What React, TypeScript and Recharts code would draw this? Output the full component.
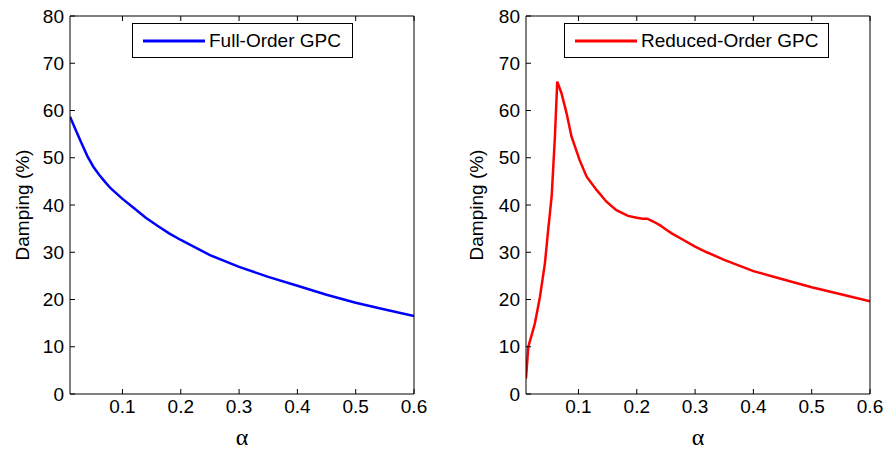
import { LineChart, Line, XAxis, YAxis, Legend, Label } from 'recharts';

// α sweep and damping (%) for the full-order controller
const fullAlpha = [
  0.01, 0.02, 0.03, 0.04, 0.05, 0.06, 0.07, 0.08, 0.09, 0.1, 0.12, 0.14, 0.16, 0.18,
  0.2, 0.25, 0.3, 0.35, 0.4, 0.45, 0.5, 0.55, 0.6,
];
const fullOrderDamping = [
  58.7, 55.8, 53.0, 50.3, 48.1, 46.4, 44.9, 43.5, 42.4, 41.3, 39.3, 37.3, 35.6, 34.0,
  32.6, 29.4, 26.9, 24.8, 22.9, 21.0, 19.3, 17.9, 16.5,
];

// α sweep and damping (%) for the reduced-order controller
const reducedAlpha = [
  0.01, 0.014, 0.02, 0.025, 0.03, 0.034, 0.0425, 0.048, 0.054, 0.0596, 0.0636, 0.071,
  0.0796, 0.088, 0.102, 0.114, 0.131, 0.148, 0.165, 0.185, 0.2, 0.21, 0.218, 0.23, 0.24,
  0.25, 0.26, 0.28, 0.3, 0.32, 0.35, 0.4, 0.45, 0.5, 0.55, 0.6,
];
const reducedOrderDamping = [
  3.3, 10.0, 12.6, 14.8, 18.0, 20.6, 27.7, 34.7, 41.8, 54.5, 66.1, 63.6,
  59.4, 54.5, 49.5, 46.0, 43.2, 40.7, 38.9, 37.7, 37.3, 37.1, 37.1, 36.4, 35.7,
  34.8, 34.0, 32.6, 31.2, 30.0, 28.4, 26.0, 24.3, 22.6, 21.1, 19.6,
];

const alphaTicks = [0.1, 0.2, 0.3, 0.4, 0.5, 0.6];
const dampingTicks = [0, 10, 20, 30, 40, 50, 60, 70, 80];

const FONT = '"Liberation Sans", Arial, sans-serif';
const SERIF = '"Liberation Serif", "DejaVu Serif", serif';
const tickStyle = { fill: '#000', fontSize: 19, fontFamily: FONT };

type PanelProps = {
  alpha: number[];
  damping: number[];
  name: string;
  color: string;
  left: number;
  width: number;
  labelAxisWidth: number;
  tickAxisWidth: number;
  marginRight: number;
  legendLeft: number;
  legendWidth: number;
};

function Panel(p: PanelProps) {
  const data = p.alpha.map((a, i) => ({ alpha: a, damping: p.damping[i] }));

  const renderLegend = (props: any) => {
    const item = (props.payload || [])[0];
    return (
      <div
        style={{
          boxSizing: 'border-box',
          width: p.legendWidth,
          height: 35,
          border: '1px solid #000',
          background: '#fff',
          display: 'flex',
          alignItems: 'center',
          fontFamily: FONT,
          fontSize: 19,
          color: '#000',
          whiteSpace: 'nowrap',
        }}
      >
        <svg width={62} height={6} style={{ marginLeft: 10, flex: 'none' }}>
          <line x1={0} y1={3} x2={62} y2={3} stroke={item ? item.color : p.color} strokeWidth={3} />
        </svg>
        <span style={{ marginLeft: 4 }}>{item ? item.value : p.name}</span>
      </div>
    );
  };

  return (
    <div style={{ position: 'absolute', left: p.left, top: 0 }}>
      <LineChart
        width={p.width}
        height={449}
        data={data}
        margin={{ top: 15, right: p.marginRight, bottom: 0, left: 0 }}
      >
        <XAxis
          dataKey="alpha"
          type="number"
          domain={[0.01, 0.6]}
          ticks={alphaTicks}
          allowDataOverflow
          height={55}
          tickSize={-5}
          tickMargin={11}
          stroke="#000"
          fontSize={19}
          fontFamily={FONT}
          tick={tickStyle}
        >
          <Label
            value="α"
            position="insideBottom"
            offset={4}
            fontSize={24}
            fontFamily={SERIF}
            fill="#000"
          />
        </XAxis>
        <XAxis
          xAxisId="top"
          orientation="top"
          dataKey="alpha"
          type="number"
          domain={[0.01, 0.6]}
          ticks={alphaTicks}
          allowDataOverflow
          height={1}
          tickSize={-5}
          tickFormatter={() => ''}
          stroke="#000"
        />
        <YAxis
          type="number"
          domain={[0, 80]}
          ticks={dampingTicks}
          width={p.tickAxisWidth}
          tickSize={-5}
          tickMargin={11}
          stroke="#000"
          fontSize={19}
          fontFamily={FONT}
          tick={tickStyle}
        />
        <YAxis
          yAxisId="label"
          type="number"
          domain={[0, 80]}
          width={p.labelAxisWidth}
          axisLine={false}
          tickLine={false}
          tick={false}
        >
          <Label
            value="Damping (%)"
            angle={-90}
            position="center"
            fontSize={19}
            fontFamily={FONT}
            fill="#000"
          />
        </YAxis>
        <YAxis
          yAxisId="right"
          orientation="right"
          type="number"
          domain={[0, 80]}
          ticks={dampingTicks}
          width={1}
          tickSize={-5}
          tickFormatter={() => ''}
          stroke="#000"
        />
        <Legend
          layout="horizontal"
          align="center"
          verticalAlign="middle"
          content={renderLegend}
          wrapperStyle={{ left: p.legendLeft, top: 23, width: 'auto', height: 'auto' }}
        />
        <Line
          type="linear"
          dataKey="damping"
          name={p.name}
          stroke={p.color}
          strokeWidth={2.5}
          dot={false}
          activeDot={false}
          isAnimationActive={false}
        />
      </LineChart>
    </div>
  );
}

export default function App() {
  return (
    <div style={{ position: 'absolute', left: 0, top: 0, width: 884, height: 449, background: '#fff' }}>
      <Panel
        alpha={fullAlpha}
        damping={fullOrderDamping}
        name="Full-Order GPC"
        color="#0000ff"
        left={0}
        width={440}
        labelAxisWidth={44}
        tickAxisWidth={26}
        marginRight={25}
        legendLeft={132}
        legendWidth={221}
      />
      <Panel
        alpha={reducedAlpha}
        damping={reducedOrderDamping}
        name="Reduced-Order GPC"
        color="#ff0000"
        left={450}
        width={434}
        labelAxisWidth={53}
        tickAxisWidth={23}
        marginRight={13}
        legendLeft={114}
        legendWidth={265}
      />
    </div>
  );
}
